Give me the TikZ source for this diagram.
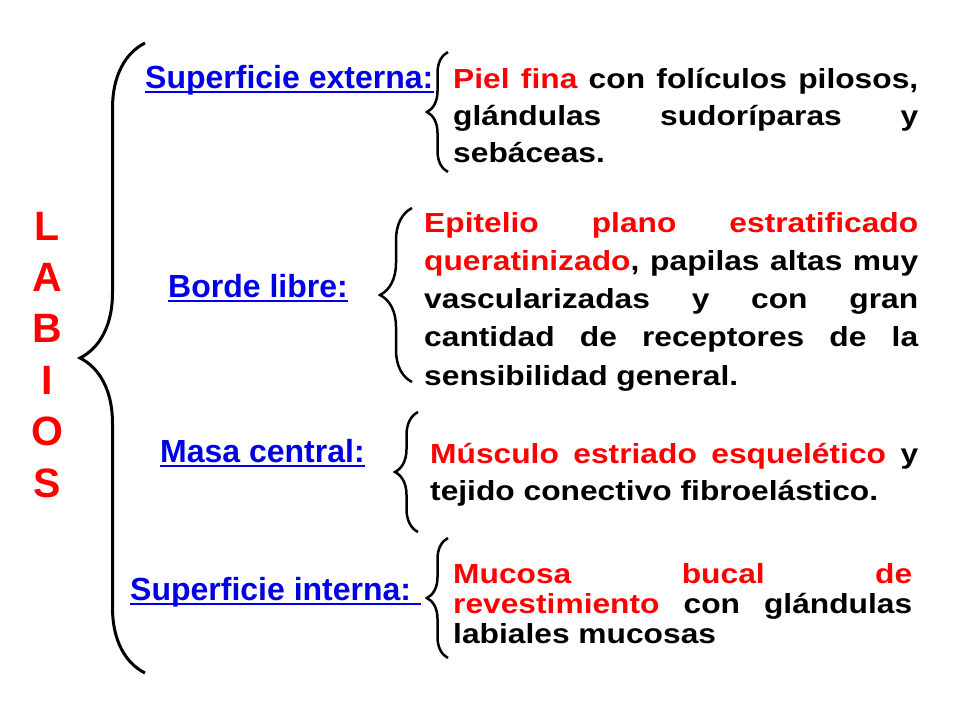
\documentclass[tikz,border=0pt]{standalone}
\usepackage{fontspec}
\setmainfont{Liberation Sans}
\newfontfamily\bodyfont{Liberation Sans}[FakeStretch=1.15]
\usepackage{xcolor}
\usetikzlibrary{positioning, decorations.pathreplacing}
\definecolor{labred}{RGB}{255,0,0}
\definecolor{labblue}{RGB}{0,0,230}
\newcommand{\rd}[1]{\textcolor{labred}{#1}}
\hyphenpenalty=10000
\exhyphenpenalty=10000

\tikzset{
  part/.style={inner sep=0, anchor=base west, text=labblue,
    font=\fontsize{32}{36}\selectfont\bfseries},
  desc/.style={inner sep=0, anchor=base west, align=justify,
    font=\bodyfont\bfseries\fontsize{27.6}{#1}\selectfont},
  desc/.default=37,
  title/.style={inner sep=0, anchor=base, text=labred,
    font=\fontsize{41}{45}\selectfont\bfseries},
  curly/.style={decorate, decoration={brace, amplitude=#1}, line width=2.5pt},
}

\begin{document}
\begin{tikzpicture}[x=1pt, y=-1pt]
  \useasboundingbox (0,0) rectangle (960,720);
  % nodes %
  \foreach \l [count=\i] in {L,A,B,I,O,S}
    \node[title] (t\i) at (47, {240+51.4*(\i-1)}) {\l};

  \node[part] (ext) at (145,88) {Superficie externa:};
  \node[part] (borde) at (168,297) {Borde libre:};
  \node[part] (masa) at (160,462) {Masa central:};
  \node[part] (int) at (130,600) {Superficie interna:\hspace*{10pt}};

  \node[desc, text width=465] (extTxt) at (453,88)
    {\rd{Piel fina} con folículos pilosos,\linebreak glándulas sudoríparas y\linebreak sebáceas.};
  \node[desc=38.3, text width=494] (bordeTxt) at (424,232)
    {\rd{Epitelio plano estratificado}\linebreak \rd{queratinizado}, papilas altas muy\linebreak
     vascularizadas y con gran\linebreak cantidad de receptores de la\linebreak sensibilidad general.};
  \node[desc, text width=488] (masaTxt) at (430,463)
    {\rd{Músculo estriado esquelético} y\linebreak tejido conectivo fibroelástico.};
  \node[desc=30, text width=459] (intTxt) at (453,583)
    {\rd{Mucosa bucal de}\linebreak \rd{revestimiento} con glándulas\linebreak labiales mucosas};

  % underlines %
  \foreach \n in {ext,borde,masa,int}
    \draw[labblue, line width=2pt] ([yshift=-4pt]\n.base west) -- ([yshift=-4pt]\n.base east);

  % braces %
  \coordinate (bigTop) at (145,43);
  \coordinate (bigBot) at (145,673);
  \coordinate (extTop) at (448,52);
  \coordinate (extBot) at (448,172);
  \coordinate (bordeTop) at (412,208);
  \coordinate (bordeBot) at (412,382);
  \coordinate (masaTop) at (418,412);
  \coordinate (masaBot) at (418,532);
  \coordinate (intTop) at (448,538);
  \coordinate (intBot) at (448,658);

  \draw[curly=65, line width=3pt] (bigBot) -- (bigTop);
  \draw[curly=21] (extBot) -- (extTop);
  \draw[curly=32] (bordeBot) -- (bordeTop);
  \draw[curly=23] (masaBot) -- (masaTop);
  \draw[curly=21] (intBot) -- (intTop);
\end{tikzpicture}
\end{document}
